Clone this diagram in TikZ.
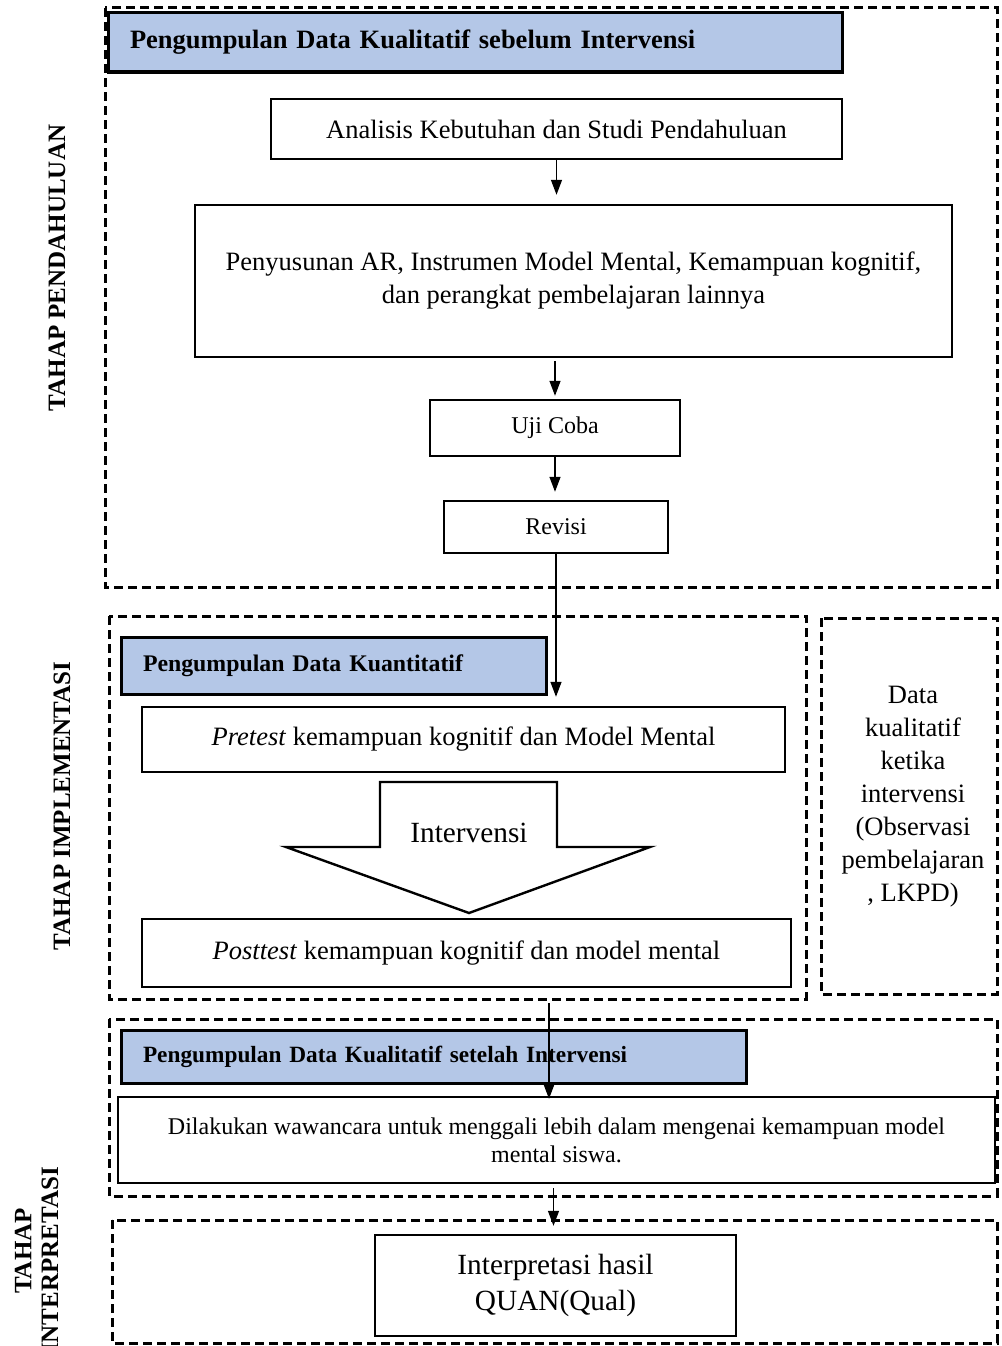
\documentclass[tikz,border=0pt]{standalone}
\usepackage{fontspec}
\setmainfont{Liberation Serif}
\usetikzlibrary{arrows.meta}
\definecolor{hdrblue}{HTML}{B4C7E7}
\begin{document}
\begin{tikzpicture}[x=1pt,y=-1pt,
  box/.style={draw=black, line width=2.4pt, fill=white, inner sep=0pt, align=center},
  hdr/.style={draw=black, line width=3pt, fill=hdrblue, inner ysep=0pt, inner xsep=22pt, align=left},
  dbox/.style={draw=black, line width=3pt, dash pattern=on 9pt off 5pt},
  arr/.style={line width=1.3pt, -{Triangle[length=15pt,width=11pt]}},
  side/.style={rotate=90, inner sep=0pt, font=\bfseries\fontsize{25}{30}\selectfont},
  big/.style={font=\fontsize{26.5}{33}\selectfont},
  mid/.style={font=\fontsize{24}{28}\selectfont}]
\clip (0,0) rectangle (1001,1346);
\fill[white] (0,0) rectangle (1001,1346);

% frames
\draw[dbox] (105,8) rectangle (997,587);
\draw[dbox] (109,616) rectangle (806,999);
\draw[dbox] (821,618) rectangle (997,994);
\draw[dbox] (109,1019) rectangle (997,1196);
\draw[dbox] (112,1220) rectangle (997,1343);

% side labels
\node[side] (lp) at (57,268) {TAHAP PENDAHULUAN};
\node[side] (li) at (62,806) {TAHAP IMPLEMENTASI};
\node[side] (lt) at (23,1251) {TAHAP};
\node[side] (lr) at (50,1260) {INTERPRETASI};

% stage 1
\node[hdr, text width=690pt, minimum height=59pt, font=\bfseries\fontsize{26.5}{32}\selectfont] (h1) at (475,42.5) {Pengumpulan Data Kualitatif sebelum Intervensi};
\node[box, big, minimum width=571pt, minimum height=60pt] (a1) at (556.5,129) {Analisis Kebutuhan dan Studi Pendahuluan};
\node[box, big, minimum width=757pt, minimum height=152pt] (a2) at (573.5,281) {Penyusunan AR, Instrumen Model Mental, Kemampuan kognitif,\\dan perangkat pembelajaran lainnya};
\node[box, mid, minimum width=250pt, minimum height=56pt] (a3) at (555,428) {Uji Coba};
\node[box, mid, minimum width=224pt, minimum height=52pt] (a4) at (556,527) {Revisi};

% stage 2
\node[hdr, text width=381pt, minimum height=57pt, font=\bfseries\fontsize{23.8}{29}\selectfont] (h2) at (333.5,665.5) {Pengumpulan Data Kuantitatif};
\node[box, big, minimum width=643pt, minimum height=65pt] (p1) at (463.5,739.5) {\textit{Pretest} kemampuan kognitif dan Model Mental};
\draw[line width=2.4pt, fill=white] (380,782) -- (557,782) -- (557,847) -- (650,847) -- (469,913) -- (286,847) -- (380,847) -- cycle;
\node[font=\fontsize{29.3}{35}\selectfont] (iv) at (469,833) {Intervensi};
\node[box, big, minimum width=649pt, minimum height=68pt] (p2) at (466.5,953) {\textit{Posttest} kemampuan kognitif dan model mental};
\node[big, align=center] (dk) at (913,797) {Data\\kualitatif\\ketika\\intervensi\\(Observasi\\pembelajaran\\, LKPD)};

% stage 3
\node[hdr, text width=581pt, minimum height=53pt, font=\bfseries\fontsize{23.3}{28}\selectfont] (h3) at (433.5,1056.5) {Pengumpulan Data Kualitatif setelah Intervensi};
\node[box, mid, minimum width=877pt, minimum height=86pt] (d1) at (556.5,1140) {Dilakukan wawancara untuk menggali lebih dalam mengenai kemampuan model\\mental siswa.};
\node[box, font=\fontsize{29.3}{36}\selectfont, minimum width=361pt, minimum height=101pt] (i1) at (555.5,1285.5) {Interpretasi hasil\\QUAN(Qual)};

% connectors
\draw[arr, shorten >=9pt] (a1.south) -- (a1.south |- a2.north);
\draw[arr, shorten <=3pt, shorten >=3pt] (a3.north |- a2.south) -- (a3.north);
\draw[arr, shorten >=8pt] (a3.south) -- (a3.south |- a4.north);
\draw[arr, shorten >=9pt] (a4.south) -- (a4.south |- p1.north);
\coordinate (c1) at (549,1003);
\draw[arr, shorten >=-3pt] (c1) -- (c1 |- d1.north);
\draw[arr, shorten <=4pt, shorten >=8pt] ([xshift=-3pt]d1.south) -- ([xshift=-3pt]d1.south |- i1.north);
\end{tikzpicture}
\end{document}
